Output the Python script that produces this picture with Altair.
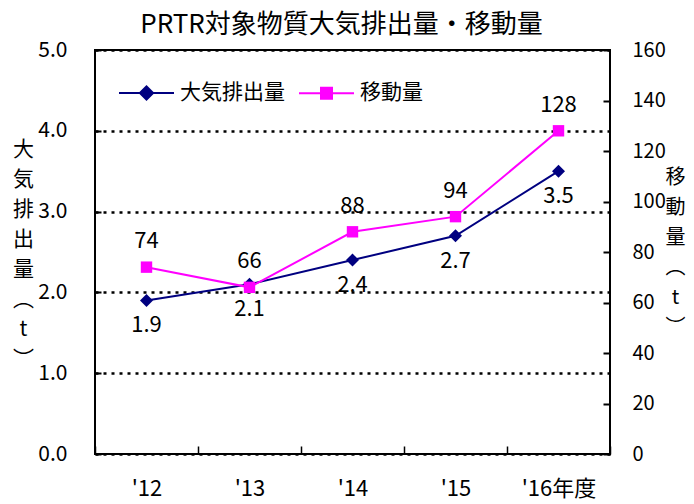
import altair as alt
import pandas as pd

FONT = "Noto Sans CJK JP"

years = ["'12", "'13", "'14", "'15", "'16年度"]
emission = [1.9, 2.1, 2.4, 2.7, 3.5]      # 大気排出量 (t), left axis
transfer = [74, 66, 88, 94, 128]          # 移動量 (t), right axis
series_names = ["大気排出量", "移動量"]
series_colors = ["#000080", "#FF00FF"]
left_ticks = [0, 1, 2, 3, 4, 5]
right_ticks = [0, 20, 40, 60, 80, 100, 120, 140, 160]
left_title = ["大", "気", "排", "出", "量", "︵", "t", "︶"]
right_title = ["移", "動", "量", "︵", "t", "︶"]

df_e = pd.DataFrame({"year": years, "value": emission, "series": series_names[0]})
df_t = pd.DataFrame({"year": years, "value": transfer, "series": series_names[1]})

# legend symbols: short line with marker
legend_paths = [
    "M-1,0L1,0M-0.24,0L0,-0.24L0.24,0L0,0.24Z",
    "M-1,0L1,0M-0.2,-0.2L0.2,-0.2L0.2,0.2L-0.2,0.2Z",
]

x_enc = alt.X(
    "year:N", sort=years,
    scale=alt.Scale(paddingInner=0, paddingOuter=0),
    axis=alt.Axis(
        title=None, labelAngle=0, labelFont=FONT, labelFontSize=22, labelColor="black",
        domain=False, ticks=True, tickBand="extent", tickSize=8, offset=-8,
        tickColor="black", tickWidth=1.5, labelPadding=24, labelBaseline="top",
    ),
)

y_left = alt.Y(
    "value:Q",
    scale=alt.Scale(domain=[0, 5], nice=False, zero=True),
    axis=alt.Axis(
        values=left_ticks, format=".1f", labelFont=FONT, labelFontSize=21, labelColor="black",
        domain=False, ticks=True, tickSize=6, offset=-6, tickColor="black", tickWidth=2,
        labelPadding=28,
        grid=True, gridColor="black", gridDash=[3, 5], gridWidth=2.5, gridOpacity=1,
        title=left_title, titleAngle=0, titleFont=FONT, titleFontSize=21, titleFontWeight="normal",
        titleColor="black", titleLineHeight=30, titleAlign="center", titleBaseline="middle",
        titleX=-78, titleY=99,
    ),
)

y_right = alt.Y(
    "value:Q",
    scale=alt.Scale(domain=[0, 160], nice=False, zero=True),
    axis=alt.Axis(
        orient="right", values=right_ticks, labelFont=FONT, labelFontSize=20, labelColor="black",
        domain=False, ticks=True, tickSize=7, offset=-7, tickColor="black", tickWidth=2,
        labelPadding=22, grid=False,
        title=right_title, titleAngle=0, titleFont=FONT, titleFontSize=20, titleFontWeight="normal",
        titleColor="black", titleLineHeight=30, titleAlign="center", titleBaseline="middle",
        titleX=72, titleY=127,
    ),
)

base_e = alt.Chart(df_e)
line_e = base_e.mark_line(color=series_colors[0], strokeWidth=2).encode(x=x_enc, y=y_left)
pts_e = base_e.mark_point(shape="diamond", filled=True, color=series_colors[0], size=170, opacity=1).encode(x=x_enc, y=y_left)
txt_e = base_e.mark_text(font=FONT, fontSize=22, color="black", dy=25).encode(
    x=x_enc, y=y_left, text=alt.Text("value:Q", format=".1f"))

legend_def = alt.Legend(
    title=None, orient="none", legendX=23, legendY=14, direction="horizontal",
    labelFont=FONT, labelFontSize=21, labelColor="black", labelOffset=5, labelLimit=300,
    symbolSize=3025, symbolStrokeWidth=2, symbolOpacity=1, columnPadding=10, padding=0,
)
legend_layer = alt.Chart(pd.DataFrame({"year": years[:2], "series": series_names})).mark_point(opacity=0).encode(
    x=x_enc,
    fill=alt.Fill("series:N", scale=alt.Scale(domain=series_names, range=series_colors), legend=legend_def),
    stroke=alt.Stroke("series:N", scale=alt.Scale(domain=series_names, range=series_colors), legend=legend_def),
    shape=alt.Shape("series:N", scale=alt.Scale(domain=series_names, range=legend_paths), legend=legend_def),
)

base_t = alt.Chart(df_t)
line_t = base_t.mark_line(color=series_colors[1], strokeWidth=2).encode(x=x_enc, y=y_right)
pts_t = base_t.mark_point(shape="square", filled=True, color=series_colors[1], size=130, opacity=1).encode(x=x_enc, y=y_right)
txt_t = base_t.mark_text(font=FONT, fontSize=22, color="black", dy=-26).encode(
    x=x_enc, y=y_right, text=alt.Text("value:Q", format=".0f"))

left = alt.layer(line_e, pts_e, txt_e, legend_layer)
right = alt.layer(line_t, pts_t, txt_t)

chart = alt.layer(left, right).resolve_scale(y="independent").properties(
    width=515, height=404,
    autosize=alt.AutoSizeParams(type="none"),
    padding={"left": 87, "top": 42, "right": 76, "bottom": 50},
    title=alt.TitleParams(
        "PRTR対象物質大気排出量・移動量", font=FONT, fontSize=26, fontWeight="normal",
        color="black", anchor="middle", frame="group", dx=-11, dy=3,
    ),
).configure_view(stroke="black", strokeWidth=2)

chart.save("out.html", embed_options={"renderer": "svg", "actions": False})
